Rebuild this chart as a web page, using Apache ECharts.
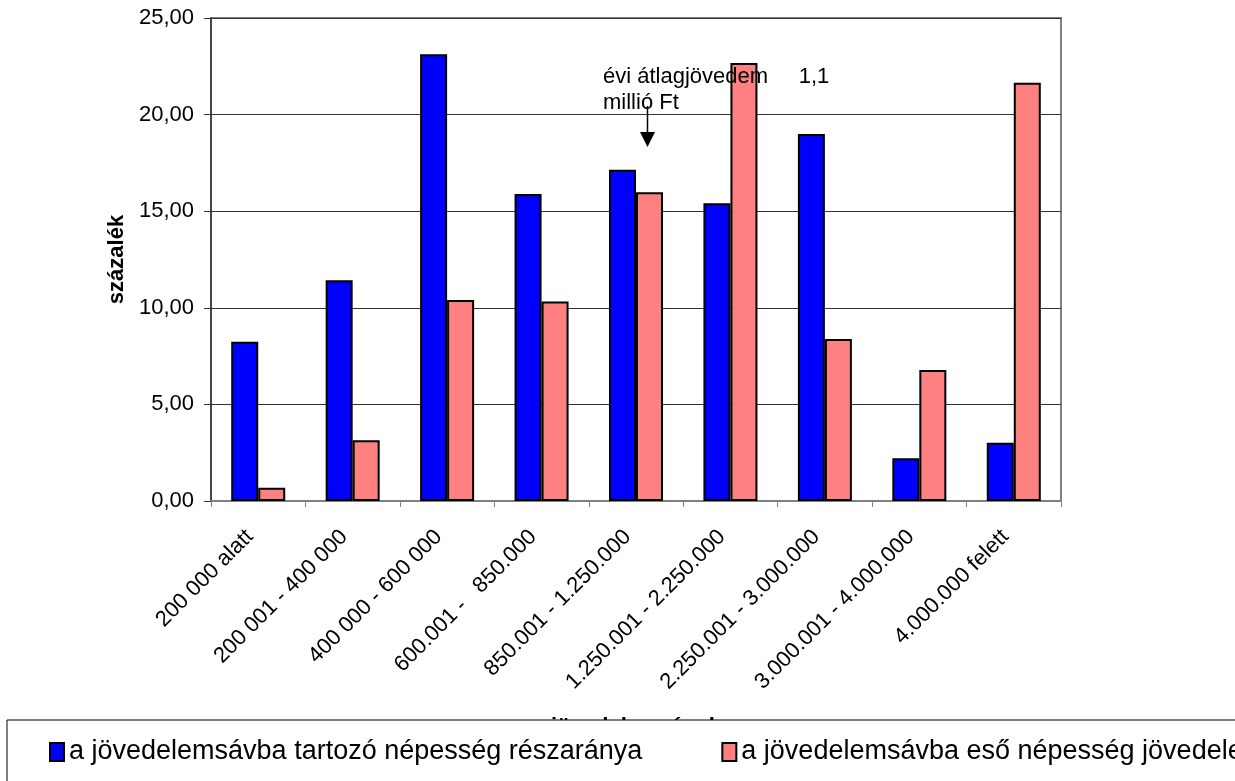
<!DOCTYPE html>
<html>
<head>
<meta charset="utf-8">
<script src="https://cdn.jsdelivr.net/npm/echarts@6/dist/echarts.min.js"></script>
<style>
  html, body { margin: 0; padding: 0; background: #fff; }
  #chart { width: 1235px; height: 781px; }
</style>
</head>
<body>
<div id="chart"></div>
<script>
// Jövedelemsávok - népesség és jövedelem részaránya
const categories = [
    '200 000 alatt',
    '200 001 - 400 000',
    '400 000 - 600 000',
    '600.001 -   850.000',
    '850.001 - 1.250.000',
    '1.250.001 - 2.250.000',
    '2.250.001 - 3.000.000',
    '3.000.001 - 4.000.000',
    '4.000.000 felett',
];
const nepessegReszarany = [8.24, 11.42, 23.12, 15.89, 17.15, 15.41, 19.0, 2.21, 3.02];
const jovedelemReszarany = [0.69, 3.14, 10.4, 10.32, 15.98, 22.67, 8.39, 6.78, 21.65];
const seriesNames = [
    'a jövedelemsávba tartozó népesség részaránya',
    'a jövedelemsávba eső népesség jövedelemrészaránya',
];
const annotationLines = ['évi átlagjövedem     1,1', 'millió Ft'];

const FONT = 'Liberation Sans, Arial, sans-serif';

let incomeChart = echarts.init(document.getElementById('chart'));

let option = {
    backgroundColor: '#fff',
    animation: false,
    textStyle: { fontFamily: FONT, color: '#000' },

    grid: {
        left: 211,
        right: 174,
        top: 18,
        bottom: 280,
        show: true,
        borderColor: '#808080',
        borderWidth: 2,
        containLabel: false,
        outerBoundsMode: 'none',
    },

    legend: {
        left: 7,
        top: 720,
        width: 3000,
        padding: [17, 40, 60, 42],
        backgroundColor: '#fff',
        borderColor: '#000',
        borderWidth: 1,
        borderRadius: 0,
        itemWidth: 14,
        itemHeight: 18,
        itemGap: 79,
        icon: 'rect',
        textStyle: { fontSize: 27, lineHeight: 30, color: '#000', fontFamily: FONT },
        data: seriesNames,
    },

    xAxis: {
        type: 'category',
        data: categories,
        name: 'jövedelemsávok',
        nameLocation: 'middle',
        nameGap: 215,
        nameTextStyle: { fontSize: 22, fontWeight: 'bold', color: '#000', fontFamily: FONT },
        axisLine: { lineStyle: { color: '#808080', width: 2 } },
        axisTick: { show: true, length: 6, lineStyle: { color: '#808080' } },
        axisLabel: {
            rotate: 45,
            margin: 24,
            padding: [0, 12, 0, 0],
            fontSize: 22,
            color: '#000',
            fontFamily: FONT,
            interval: 0,
        },
        splitLine: { show: false },
    },

    yAxis: {
        type: 'value',
        min: 0,
        max: 25,
        interval: 5,
        name: 'százalék',
        nameLocation: 'middle',
        nameGap: 81,
        nameTextStyle: { fontSize: 22, fontWeight: 'bold', color: '#000', fontFamily: FONT },
        axisLine: { show: true, lineStyle: { color: '#333', width: 1.5 } },
        axisTick: { show: true, length: 7, lineStyle: { color: '#333' } },
        axisLabel: {
            margin: 17,
            fontSize: 22,
            color: '#000',
            fontFamily: FONT,
            formatter: function (v) {
                return v.toFixed(2).replace('.', ',');
            },
        },
        splitLine: { show: true, lineStyle: { color: '#333', width: 1 } },
    },

    series: [
        {
            name: seriesNames[0],
            type: 'bar',
            data: nepessegReszarany,
            barWidth: 27,
            barGap: '0%',
            itemStyle: { color: '#0000ff', borderColor: '#000', borderWidth: 2 },
        },
        {
            name: seriesNames[1],
            type: 'bar',
            data: jovedelemReszarany,
            barWidth: 27,
            barGap: '0%',
            itemStyle: { color: '#ff8080', borderColor: '#000', borderWidth: 2 },
        },
    ],

    // megjegyzés a nyíllal
    graphic: [
        {
            type: 'text',
            x: 603,
            y: 77,
            z: 100,
            style: {
                text: annotationLines[0],
                fontSize: 22,
                fontFamily: FONT,
                fill: '#000',
                verticalAlign: 'middle',
            },
        },
        {
            type: 'text',
            x: 603,
            y: 103,
            z: 100,
            style: {
                text: annotationLines[1],
                fontSize: 22,
                fontFamily: FONT,
                fill: '#000',
                verticalAlign: 'middle',
            },
        },
        {
            type: 'line',
            z: 100,
            shape: { x1: 647.5, y1: 106, x2: 647.5, y2: 133 },
            style: { stroke: '#000', lineWidth: 1.5 },
        },
        {
            type: 'polygon',
            z: 100,
            shape: { points: [[640, 132], [655, 132], [647.5, 147]] },
            style: { fill: '#000' },
        },
    ],
};

incomeChart.setOption(option);

window.addEventListener('resize', function () {
    incomeChart.resize();
});
</script>
</body>
</html>
